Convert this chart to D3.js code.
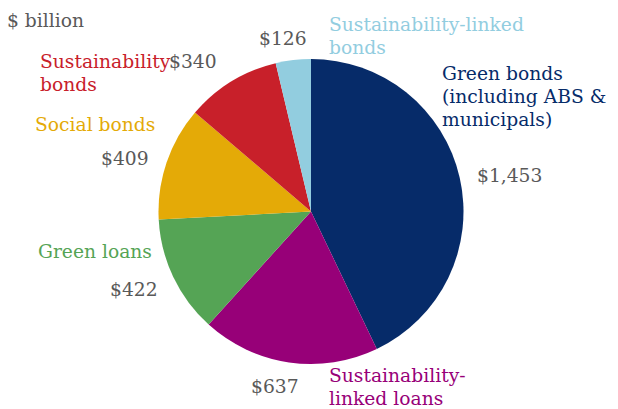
<!DOCTYPE html>
<html>
<head>
<meta charset="utf-8">
<script src="https://cdn.jsdelivr.net/npm/d3@7"></script>
<style>
  html, body { margin: 0; padding: 0; background: #fff; }
  svg { display: block; }
  text { font-family: "DejaVu Serif", "Liberation Serif", serif; }
</style>
</head>
<body>
<svg id="chart" width="618" height="409"></svg>
<script>
// Sustainable debt issuance by instrument, $ billion
const categories = [
  "Green bonds (including ABS & municipals)",
  "Sustainability-linked loans",
  "Green loans",
  "Social bonds",
  "Sustainability bonds",
  "Sustainability-linked bonds"
];
const values = [1453, 637, 422, 409, 340, 126];
const valueLabels = ["$1,453", "$637", "$422", "$409", "$340", "$126"];
const colors = ["#062b69", "#970078", "#55a455", "#e4aa07", "#c8202a", "#92cddf"];

// Category labels broken into lines, with anchor points for each label block
const nameLines = [
  ["Green bonds", "(including ABS &", "municipals)"],
  ["Sustainability-", "linked loans"],
  ["Green loans"],
  ["Social bonds"],
  ["Sustainability", "bonds"],
  ["Sustainability-linked", "bonds"]
];
const namePos = [[442, 80], [329, 382], [38, 258], [35, 131], [40, 68], [329, 31]];
const valuePos = [[477, 182], [251, 393], [110, 296], [101, 165], [169, 68], [259, 45]];

const svg = d3.select("#chart");
const cx = 311, cy = 211.5, radius = 152.5;
const fontSize = 18.7, lineHeight = 23;

const pie = d3.pie().sort(null).value(d => d)(values);
const arc = d3.arc().innerRadius(0).outerRadius(radius);

svg.append("g")
  .attr("transform", `translate(${cx},${cy})`)
  .selectAll("path")
  .data(pie)
  .join("path")
  .attr("d", arc)
  .attr("fill", (d, i) => colors[i]);

svg.append("text")
  .attr("x", 7).attr("y", 27)
  .attr("font-size", fontSize)
  .attr("fill", "#595959")
  .text("$ billion");

// Category names
svg.selectAll("text.name")
  .data(nameLines)
  .join("text")
  .attr("class", "name")
  .attr("x", (d, i) => namePos[i][0])
  .attr("y", (d, i) => namePos[i][1])
  .attr("font-size", fontSize)
  .attr("fill", (d, i) => colors[i])
  .selectAll("tspan")
  .data(d => d)
  .join("tspan")
  .attr("x", function () { return this.parentNode.getAttribute("x"); })
  .attr("dy", (d, j) => j === 0 ? 0 : lineHeight)
  .text(d => d);

// Value labels
svg.selectAll("text.value")
  .data(valueLabels)
  .join("text")
  .attr("class", "value")
  .attr("x", (d, i) => valuePos[i][0])
  .attr("y", (d, i) => valuePos[i][1])
  .attr("font-size", fontSize)
  .attr("fill", "#595959")
  .text(d => d);
</script>
</body>
</html>
